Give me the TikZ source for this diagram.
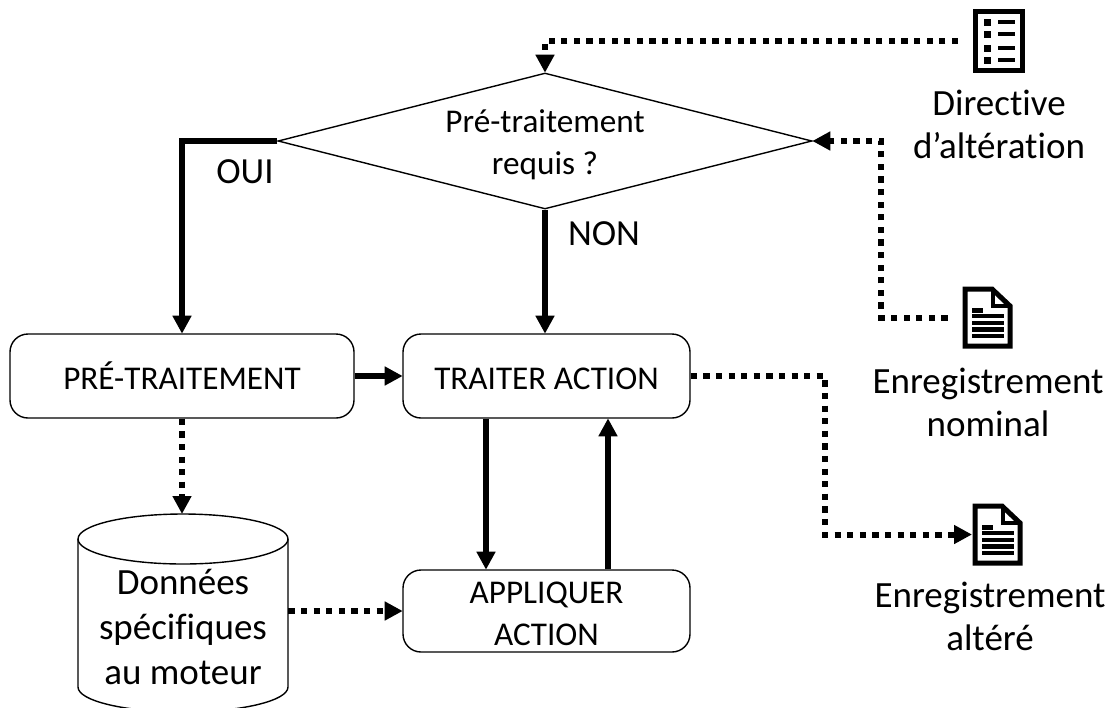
\documentclass[tikz,border=0pt]{standalone}
\usepackage{fontspec}
\setmainfont{Carlito}[Ligatures=NoCommon]
\usetikzlibrary{arrows.meta,shapes.geometric}
\def\pxsep{0.5pt}
\def\docicon#1#2{
	\begin{scope}[shift={(#2)}]
		\node[icon area] (#1) at (25.5,31.5) {};
		\draw[icon line,line join=miter] (3,3) -- (30,3) -- (48,20) -- (48,60) -- (3,60) -- cycle;
		\draw[icon line,line width=2pt,line join=miter] (31,3) -- (31,20) -- (48,20);
		\draw[icon ink] (10,22) rectangle (21,26.5);
		\foreach \y in {30,37,43.5,50}
			\draw[icon ink] (10,\y-2.2) rectangle (42,\y+2.2);
	\end{scope}
}

\begin{document}
\begin{tikzpicture}[x=\pxsep,y=-\pxsep,font=\fontsize{16.6pt}{21pt}\selectfont]
	\tikzstyle{box}=[draw,rounded corners=9pt,line width=0.7pt,inner sep=0pt,align=center,text height=15.5pt,text depth=2pt]
	\tikzstyle{big}=[font=\fontsize{18.5pt}{21.5pt}\selectfont,align=center,inner sep=0pt]
	\tikzstyle{tag}=[font=\fontsize{18.4pt}{22pt}\selectfont,inner sep=0pt]
	\tikzstyle{solid link}=[line width=3pt,-{Triangle[length=9pt,width=9pt]},shorten >=-0.2pt]
	\tikzstyle{dotted link}=[solid link,dash pattern=on 3.1pt off 3.2pt]
	\tikzstyle{icon area}=[minimum width=25.5pt,minimum height=31.5pt,inner sep=0pt]
	\tikzstyle{icon line}=[draw,line width=2.5pt]
	\tikzstyle{icon ink}=[fill=black,draw=none]

	\clip (0,0) rectangle (1112,707);

	\node[diamond,draw,line width=0.7pt,inner sep=0pt,aspect=3.93,minimum width=267pt,minimum height=68pt,align=center] (Q-1) at (545,141) {};
	\node[align=center,inner sep=0pt] (Q-T) at (545,145) {Pré-traitement\\requis ?};

	\node[box,minimum width=172pt,minimum height=42pt] (P-1) at (182,376) {PRÉ-TRAITEMENT};
	\node[box,minimum width=143.5pt,minimum height=42pt] (T-1) at (546.5,376) {TRAITER ACTION};
	\node[box,minimum width=143.5pt,minimum height=41pt,text height=,text depth=] (A-1) at (546.5,611) {};
	\node[align=center,inner sep=0pt] (A-T) at (546.5,614) {APPLIQUER\\ACTION};

	\node[minimum width=105pt,minimum height=86.5pt,inner sep=0pt] (D-1) at (183,600.5) {};
	\draw[line width=0.7pt] (183,539) ellipse[x radius=105,y radius=25];
	\draw[line width=0.7pt] (78,539) -- (78,687) arc[start angle=180,end angle=0,x radius=105,y radius=25] -- (288,539);
	\node[big,font=\fontsize{18.5pt}{22.5pt}\selectfont] (D-T) at (183,627) {Données\\spécifiques\\au moteur};

	\node[draw,line width=2.5pt,minimum width=23.5pt,minimum height=29.5pt,inner sep=0pt] (R-1) at (999,41) {};
	\foreach \y in {22,34,48,60} {
		\fill (984,\y-3.5) rectangle (991,\y+3.5);
		\fill (998,\y-2) rectangle (1015,\y+2);
	}
	\docicon{N-1}{962,286}
	\docicon{L-1}{972,503}

	\node[big] (R-T) at (999,124) {Directive\\d’altération};
	\node[big] (N-T) at (988,402) {Enregistrement\\nominal};
	\node[big] (L-T) at (990,616) {Enregistrement\\altéré};
	\node[tag] (oui) at (245,172) {OUI};
	\node[tag] (non) at (604,234) {NON};

	\draw[solid link] (Q-1.west) -| (P-1.north);
	\draw[solid link] (Q-1.south) -- (Q-1.south |- T-1.north);
	\draw[solid link] (P-1.east) -- (T-1.west);
	\draw[solid link] (T-1.south -| 486,0) -- (A-1.north -| 486,0);
	\draw[solid link] (A-1.north -| 608,0) -- (T-1.south -| 608,0);

	\draw[dotted link,shorten <=7.5pt] (R-1.west) -| (Q-1.north);
	\draw[dotted link,shorten <=7pt] (N-1.west) -- (N-1.west -| 881,0) |- (Q-1.east);
	\draw[dotted link] (T-1.east) -- (T-1.east -| 825,0) |- (L-1.west);
	\draw[dotted link] (P-1.south) -- (P-1.south |- D-1.north);
	\draw[dotted link] (D-1.east |- A-1.west) -- (A-1.west);
\end{tikzpicture}
\end{document}
